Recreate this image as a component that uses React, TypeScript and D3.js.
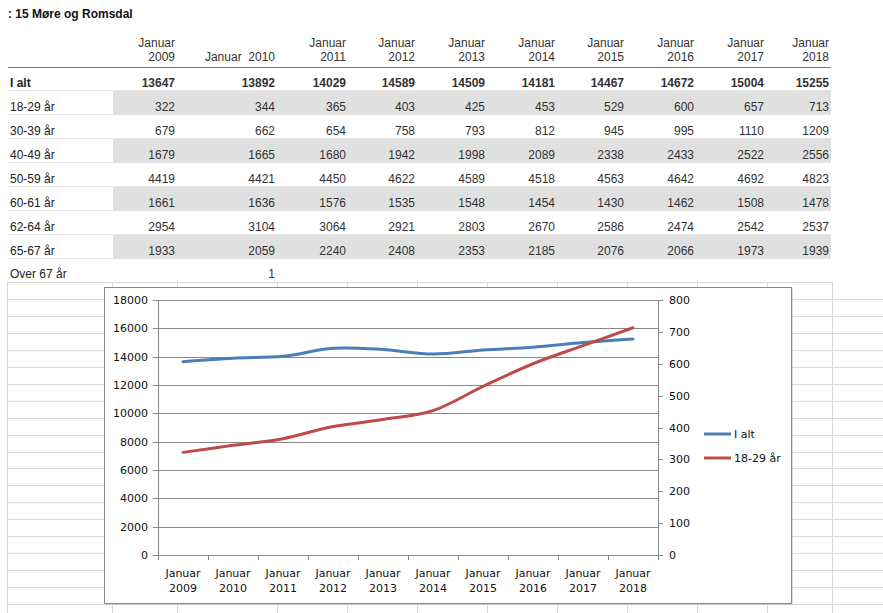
import React from "react";
import * as d3 from "d3";

const title = ": 15 Møre og Romsdal";
const years = ["2009", "2010", "2011", "2012", "2013", "2014", "2015", "2016", "2017", "2018"];
const rowLabels = ["I alt", "18-29 år", "30-39 år", "40-49 år", "50-59 år", "60-61 år", "62-64 år", "65-67 år", "Over 67 år"];
const ialt = [13647, 13892, 14029, 14589, 14509, 14181, 14467, 14672, 15004, 15255];
const r1829 = [322, 344, 365, 403, 425, 453, 529, 600, 657, 713];
const r3039 = [679, 662, 654, 758, 793, 812, 945, 995, 1110, 1209];
const r4049 = [1679, 1665, 1680, 1942, 1998, 2089, 2338, 2433, 2522, 2556];
const r5059 = [4419, 4421, 4450, 4622, 4589, 4518, 4563, 4642, 4692, 4823];
const r6061 = [1661, 1636, 1576, 1535, 1548, 1454, 1430, 1462, 1508, 1478];
const r6264 = [2954, 3104, 3064, 2921, 2803, 2670, 2586, 2474, 2542, 2537];
const r6567 = [1933, 2059, 2240, 2408, 2353, 2185, 2076, 2066, 1973, 1939];
const rOver67 = [null, 1, null, null, null, null, null, null, null, null];
const leftTicks = [0, 2000, 4000, 6000, 8000, 10000, 12000, 14000, 16000, 18000];
const rightTicks = [0, 100, 200, 300, 400, 500, 600, 700, 800];
const seriesNames = ["I alt", "18-29 år"];

const tableRows = [ialt, r1829, r3039, r4049, r5059, r6061, r6264, r6567, rOver67];
const colRight = [175, 275, 346, 415, 485, 555, 624, 694, 764, 829];
const gridX = [7, 112, 177, 277, 347, 417, 487, 557, 627, 697, 767, 832];

export default function App() {
  const W = 883, H = 613;
  const tFont = "Arial, 'Liberation Sans', sans-serif";
  const cFont = "Verdana, 'DejaVu Sans', sans-serif";

  const x = d3.scaleBand().domain(years).range([158, 658]);
  const yL = d3.scaleLinear().domain([0, 18000]).range([555, 300]);
  const yR = d3.scaleLinear().domain([0, 800]).range([555, 300]);
  const cx = (y: string) => (x(y) as number) + x.bandwidth() / 2;
  const curve = d3.curveCatmullRom.alpha(0.5);
  const lineL = d3.line<number>().x((_, i) => cx(years[i])).y((d) => yL(d)).curve(curve);
  const lineR = d3.line<number>().x((_, i) => cx(years[i])).y((d) => yR(d)).curve(curve);

  const hLines: number[] = [];
  for (let y = 299; y <= H; y += 16.95) hLines.push(Math.round(y) + 0.5);

  return (
    <svg width={W} height={H} style={{ position: "absolute", left: 0, top: 0, background: "#fff" }}>
      {/* spreadsheet grid */}
      <g stroke="#d9d9d9" strokeWidth={1}>
        <line x1={7} x2={832} y1={282.5} y2={282.5} />
        {hLines.map((y, i) => <line key={i} x1={7} x2={W} y1={y} y2={y} />)}
        {gridX.map((gx, i) => <line key={i} x1={gx + 0.5} x2={gx + 0.5} y1={282} y2={H} />)}
      </g>

      {/* table */}
      <text x={8} y={18} fontFamily={tFont} fontSize={12} fontWeight="bold" fill="#111">{title}</text>
      {years.map((yr, i) =>
        i === 1 ? (
          <text key={yr} x={colRight[i]} y={61} textAnchor="end" fontFamily={tFont} fontSize={12} fill="#333">{"Januar\u00a0\u00a0" + yr}</text>
        ) : (
          <g key={yr}>
            <text x={colRight[i]} y={47} textAnchor="end" fontFamily={tFont} fontSize={12} fill="#333">Januar</text>
            <text x={colRight[i]} y={61} textAnchor="end" fontFamily={tFont} fontSize={12} fill="#333">{yr}</text>
          </g>
        )
      )}
      {tableRows.map((row, r) => {
        const top = 67 + (r === 0 ? 0 : 23 + (r - 1) * 24);
        const base = 87 + r * 24 - (r === 8 ? 1 : 0);
        const shaded = r === 1 || r === 3 || r === 5 || r === 7;
        return (
          <g key={r}>
            {shaded && <rect x={113} y={top} width={718} height={24} fill="#e0e0e0" />}
            {r > 0 && r < 9 && <line x1={8} x2={831} y1={top + 0.5} y2={top + 0.5} stroke="#e4e4e4" />}
            <text x={10} y={base} fontFamily={tFont} fontSize={12} fontWeight={r === 0 ? "bold" : "normal"} fill="#222">{rowLabels[r]}</text>
            {row.map((v, i) =>
              v == null ? null : (
                <text key={i} x={colRight[i]} y={base} textAnchor="end" fontFamily={tFont} fontSize={12} fontWeight={r === 0 ? "bold" : "normal"} fill="#333">{v}</text>
              )
            )}
          </g>
        );
      })}
      <line x1={8} x2={831} y1={258.5} y2={258.5} stroke="#e4e4e4" />
      <line x1={8} x2={831} y1={67.5} y2={67.5} stroke="#777" />

      {/* chart box */}
      <rect x={106} y={289} width={687} height={316} fill="#bbb" opacity={0.5} />
      <rect x={104.5} y={287.5} width={687} height={316} fill="#fff" stroke="#8a8a8a" />

      {/* gridlines */}
      <g stroke="#868686" strokeWidth={1}>
        {leftTicks.map((t) => (
          <line key={t} x1={158} x2={658} y1={Math.round(yL(t)) + 0.5} y2={Math.round(yL(t)) + 0.5} />
        ))}
        <line x1={158.5} x2={158.5} y1={300} y2={555} />
        <line x1={658.5} x2={658.5} y1={300} y2={555} />
        {leftTicks.map((t) => (
          <line key={"l" + t} x1={153} x2={158} y1={Math.round(yL(t)) + 0.5} y2={Math.round(yL(t)) + 0.5} />
        ))}
        {rightTicks.map((t) => (
          <line key={"r" + t} x1={658} x2={663} y1={Math.round(yR(t)) + 0.5} y2={Math.round(yR(t)) + 0.5} />
        ))}
        {years.map((yr) => (
          <line key={yr} x1={(x(yr) as number) + 0.5} x2={(x(yr) as number) + 0.5} y1={555} y2={560} />
        ))}
        <line x1={658.5} x2={658.5} y1={555} y2={560} />
      </g>
      {leftTicks.map((t) => (
        <text key={t} x={148} y={yL(t) + 4} textAnchor="end" fontFamily={cFont} fontSize={11} fill="#111">{t}</text>
      ))}
      {rightTicks.map((t) => (
        <text key={t} x={669} y={yR(t) + 4} textAnchor="start" fontFamily={cFont} fontSize={11} fill="#111">{t}</text>
      ))}
      {years.map((yr) => (
        <g key={yr}>
          <text x={cx(yr)} y={577} textAnchor="middle" fontFamily={cFont} fontSize={11} fill="#111">Januar</text>
          <text x={cx(yr)} y={592} textAnchor="middle" fontFamily={cFont} fontSize={11} fill="#111">{yr}</text>
        </g>
      ))}

      {/* series */}
      <path d={lineL(ialt) || ""} fill="none" stroke="#4a7ebb" strokeWidth={3} strokeLinecap="round" />
      <path d={lineR(r1829) || ""} fill="none" stroke="#be4b48" strokeWidth={3} strokeLinecap="round" />

      {/* legend */}
      {seriesNames.map((n, i) => (
        <g key={n}>
          <line x1={704} x2={731} y1={434 + i * 24} y2={434 + i * 24} stroke={i === 0 ? "#4a7ebb" : "#be4b48"} strokeWidth={3} />
          <text x={734} y={438 + i * 24} fontFamily={cFont} fontSize={11} fill="#111">{n}</text>
        </g>
      ))}
    </svg>
  );
}
